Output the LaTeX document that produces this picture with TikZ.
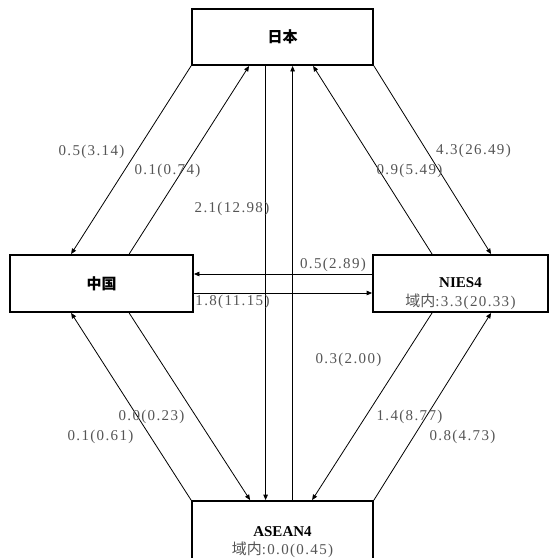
\documentclass[tikz,border=0pt]{standalone}
\usepackage{fontspec}
\usepackage{xcolor}
\usepackage{tikz}
\usetikzlibrary{arrows.meta, positioning, calc}
\setmainfont{Liberation Serif}
\newfontfamily\jpsans{Noto Sans CJK JP}
\newfontfamily\valfont[LetterSpace=9]{Liberation Serif}
\definecolor{labelgray}{HTML}{555555}
\tikzstyle{regionbox} = [rectangle, draw=black, fill=white, line width=1.8pt, inner sep=0pt,
  font=\jpsans\bfseries\fontsize{15}{18}\selectfont, text=black]
\tikzstyle{regionname} = [inner sep=0pt, font=\bfseries\fontsize{15}{18}\selectfont, text=black]
\tikzstyle{flowval} = [inner sep=0pt, font=\valfont\fontsize{15}{18}\selectfont, text=labelgray]
\tikzstyle{flowarrow} = [-{Triangle[length=5.5pt,width=4.5pt]}, line width=0.8pt, black]
\begin{document}
\begin{tikzpicture}[x=1pt, y=-1pt]
  \path[use as bounding box, fill=white] (0,0) rectangle (549,558);

  % Regions
  \node (jp) [regionbox, minimum width=181pt, minimum height=56pt] at (282.5,37) {日本};
  \node (cn) [regionbox, minimum width=183pt, minimum height=57pt] at (101.5,283.5) {中国};
  \node (nies) [regionbox, minimum width=175pt, minimum height=57pt] at (460.5,283.5) {};
  \node (asean) [regionbox, minimum width=181pt, minimum height=58pt] at (282.5,530) {};

  % Region texts
  \node (niesname) [regionname] at (460.5,283) {NIES4};
  \node (niesin) [flowval] at (460.5,302) {{\jpsans 域内}:3.3(20.33)};
  \node (aseanname) [regionname] at (282.5,532) {ASEAN4};
  \node (aseanin) [flowval] at (282.5,550) {{\jpsans 域内}:0.0(0.45)};

  % Arrows
  \draw[flowarrow] (jp.south west) -- ([xshift=62pt]cn.north west);
  \draw[flowarrow] ([xshift=120pt]cn.north west) -- ([xshift=58pt]jp.south west);
  \draw[flowarrow] ([xshift=74.5pt]jp.south west) -- ([xshift=74.5pt]asean.north west);
  \draw[flowarrow] ([xshift=101.5pt]asean.north west) -- ([xshift=101.5pt]jp.south west);
  \draw[flowarrow] ([xshift=60pt]nies.north west) -- ([xshift=122pt]jp.south west);
  \draw[flowarrow] (jp.south east) -- ([xshift=119pt]nies.north west);
  \draw[flowarrow] ([yshift=9.5pt]nies.west) -- ([yshift=9.5pt]cn.east);
  \draw[flowarrow] ([yshift=-9.5pt]cn.east) -- ([yshift=-9.5pt]nies.west);
  \draw[flowarrow] ([xshift=120pt]cn.south west) -- ([xshift=59pt]asean.north west);
  \draw[flowarrow] (asean.north west) -- ([xshift=62pt]cn.south west);
  \draw[flowarrow] ([xshift=60pt]nies.south west) -- ([xshift=121pt]asean.north west);
  \draw[flowarrow] (asean.north east) -- ([xshift=119pt]nies.south west);

  % Values
  \node (v1) [flowval] at (91.5,152) {0.5(3.14)};
  \node (v2) [flowval] at (167.5,171) {0.1(0.74)};
  \node (v3) [flowval] at (232,209) {2.1(12.98)};
  \node (v4) [flowval] at (473.5,151) {4.3(26.49)};
  \node (v5) [flowval] at (409.5,171) {0.9(5.49)};
  \node (v6) [flowval] at (333,265) {0.5(2.89)};
  \node (v7) [flowval] at (232.5,302) {1.8(11.15)};
  \node (v8) [flowval] at (348.5,360) {0.3(2.00)};
  \node (v9) [flowval] at (151.5,417) {0.0(0.23)};
  \node (v10) [flowval] at (100.5,437) {0.1(0.61)};
  \node (v11) [flowval] at (409.5,417) {1.4(8.77)};
  \node (v12) [flowval] at (462.5,437) {0.8(4.73)};
\end{tikzpicture}
\end{document}
